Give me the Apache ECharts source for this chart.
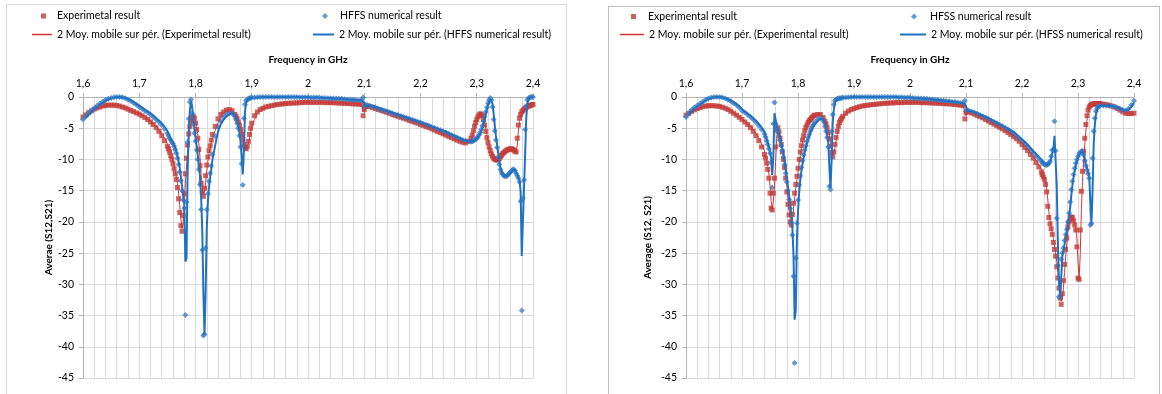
<!DOCTYPE html>
<html>
<head>
<meta charset="utf-8">
<script src="https://cdn.jsdelivr.net/npm/echarts@6/dist/echarts.min.js"></script>
<style>
  html, body { margin: 0; padding: 0; background: #ffffff; }
  #chart { width: 1162px; height: 394px; }
</style>
</head>
<body>
<div id="chart"></div>
<script>
// ---------- Left panel: measured transmission vs. HFFS simulation ----------
const leftFreq = [
  1.600,1.605,1.610,1.615,1.620,1.625,1.630,1.635,1.640,1.645,
  1.650,1.655,1.660,1.665,1.670,1.675,1.680,1.685,1.690,1.695,
  1.700,1.705,1.710,1.715,1.720,1.725,1.730,1.735,1.740,1.745,
  1.750,
  1.752,1.754,1.756,1.758,1.760,1.762,1.764,1.766,1.768,1.770,
  1.772,1.774,1.776,1.778,1.780,1.782,1.784,1.786,1.788,1.790,
  1.792,1.794,1.796,1.798,1.800,1.802,1.804,1.806,1.808,1.810,
  1.812,1.814,1.816,1.818,1.820,1.822,1.824,1.826,1.828,1.830,
  1.835,1.840,1.845,1.850,1.855,1.860,1.865,1.870,
  1.872,1.874,1.876,1.878,1.880,1.882,1.884,1.886,1.888,1.890,1.892,1.894,1.896,1.898,1.900,
  1.905,1.910,1.915,1.920,1.925,1.930,1.935,1.940,1.945,1.950,
  1.955,1.960,1.965,1.970,1.975,1.980,1.985,1.990,1.995,2.000,
  2.005,2.010,2.015,2.020,2.025,2.030,2.035,2.040,2.045,2.050,
  2.055,2.060,2.065,2.070,2.075,2.080,2.085,2.090,2.095,
  2.098,2.100,2.102,
  2.105,2.110,2.115,2.120,2.125,2.130,2.135,2.140,2.145,2.150,
  2.155,2.160,2.165,2.170,2.175,2.180,2.185,2.190,2.195,2.200,
  2.205,2.210,2.215,2.220,2.225,2.230,2.235,2.240,2.245,2.250,
  2.255,2.260,2.265,2.270,2.275,2.280,2.285,2.290,
  2.292,2.294,2.296,2.298,2.300, 2.302,2.304,2.306,2.308,2.310,
  2.312,2.314,2.316,2.318,2.320, 2.322,2.324,2.326,2.328,2.330,
  2.332,2.334,2.336,2.338,2.340, 2.342,2.344,2.346,2.348,2.350,
  2.352,2.354,2.356,2.358,2.360, 2.362,2.364,2.366,2.368,2.370,
  2.372,2.374,2.376,2.378,2.380, 2.382,2.384,2.386,2.388,2.390,
  2.392,2.394,2.396,2.398,2.400
];
const leftExp = [
  -3.2,-2.85,-2.5,-2.2,-1.95,-1.75,-1.6,-1.45,-1.35,-1.3,
  -1.3,-1.3,-1.35,-1.45,-1.6,-1.75,-1.95,-2.15,-2.35,-2.55,
  -2.75,-3.0,-3.3,-3.6,-4.0,-4.4,-4.9,-5.5,-6.2,-7.0,
  -7.9,
  -8.3,-8.8,-9.4,-10.0,-10.7,-11.5,-12.3,-13.2,-14.5,-16.3,
  -18.5,-20.6,-21.5,-19.0,-15.5,-12.3,-9.8,-7.7,-5.9,-4.7,
  -3.8,-3.3,-3.1,-3.4,-4.2,-5.2,-6.6,-8.4,-11.0,-13.8,
  -15.3,-15.9,-14.6,-12.6,-10.9,-9.6,-8.6,-7.8,-6.9,-6.0,
  -4.7,-3.5,-2.8,-2.4,-2.1,-2.0,-2.2,-2.8,
  -3.1,-3.5,-4.0,-4.5,-5.2,-6.0,-6.8,-7.6,-8.1,-8.3,-7.9,-7.1,-6.0,-5.0,-4.2,
  -3.0,-2.4,-2.0,-1.8,-1.6,-1.5,-1.4,-1.3,-1.2,-1.15,
  -1.1,-1.05,-1.0,-1.0,-0.95,-0.95,-0.9,-0.9,-0.85,-0.85,
  -0.85,-0.85,-0.85,-0.85,-0.85,-0.9,-0.9,-0.9,-0.9,-0.95,
  -0.95,-1.0,-1.0,-1.05,-1.05,-1.1,-1.1,-1.15,-1.2,
  -3.0,-2.0,-1.5,
  -1.45,-1.55,-1.7,-1.85,-2.0,-2.15,-2.3,-2.45,-2.6,-2.8,
  -2.95,-3.1,-3.25,-3.4,-3.55,-3.75,-3.9,-4.05,-4.2,-4.4,
  -4.55,-4.75,-4.9,-5.1,-5.3,-5.5,-5.7,-5.9,-6.1,-6.3,
  -6.5,-6.7,-6.9,-7.1,-7.25,-7.35,-7.1,-6.6,
  -6.1,-5.4,-4.7,-4.1,-3.6, -3.2,-2.9,-2.7,-2.75,-3.0,
  -3.6,-4.5,-5.5,-6.5,-7.3, -8.0,-8.6,-9.1,-9.5,-9.8,
  -9.95,-10.05,-10.1,-10.05,-9.9, -9.6,-9.35,-9.1,-8.9,-8.75,
  -8.6,-8.5,-8.4,-8.35,-8.3, -8.3,-8.4,-8.5,-8.7,-8.8,
  -6.6,-4.5,-3.4,-2.8,-2.4, -2.15,-1.95,-1.8,-1.65,-1.55,
  -1.45,-1.4,-1.3,-1.25,-1.2
];
const leftHfss = [
  -3.6,-3.1,-2.6,-2.2,-1.8,-1.4,-1.05,-0.75,-0.5,-0.3,
  -0.15,-0.05,0,0,-0.05,-0.2,-0.4,-0.65,-0.95,-1.25,
  -1.6,-1.9,-2.2,-2.5,-2.8,-3.2,-3.6,-4.0,-4.5,-5.1,
  -5.8,
  -6.2,-6.6,-6.9,-7.2,-7.5,-7.9,-8.4,-9.0,-9.8,-10.8,
  -12.0,-13.4,-15.0,-16.5,-17.8,-34.9,-16.8,-7.2,-3.5,-0.8,
  -0.4,-2.6,-4.3,-5.8,-7.1,-8.5,-10.0,-11.6,-14.0,-18.0,
  -24.5,-38.2,-38.0,-24.2,-18.0,-15.5,-13.5,-12.2,-11.0,-9.2,
  -6.3,-4.8,-3.9,-3.3,-2.9,-2.6,-2.6,-3.1,
  -3.6,-4.2,-5.0,-6.2,-8.0,-10.7,-14.1,-3.4,-1.2,-0.6,-0.4,-0.3,-0.2,-0.15,-0.1,
  -0.1,-0.05,0,0,0,0,0,0,0,0,
  0,0,0,0,0,0,-0.05,-0.05,-0.05,-0.05,
  -0.1,-0.1,-0.1,-0.1,-0.15,-0.15,-0.2,-0.2,-0.25,-0.25,
  -0.3,-0.3,-0.35,-0.4,-0.4,-0.45,-0.5,-0.55,-0.5,
  -0.1,-1.7,-1.3,
  -1.3,-1.4,-1.55,-1.7,-1.85,-2.0,-2.15,-2.3,-2.45,-2.6,
  -2.75,-2.9,-3.05,-3.2,-3.35,-3.5,-3.65,-3.8,-3.95,-4.1,
  -4.3,-4.45,-4.6,-4.8,-4.95,-5.15,-5.3,-5.5,-5.7,-5.9,
  -6.1,-6.3,-6.5,-6.7,-6.9,-7.0,-7.1,-7.15,
  -7.1,-7.0,-6.9,-6.8,-6.6, -6.4,-6.1,-5.7,-5.2,-4.6,
  -3.9,-3.2,-2.4,-1.7,-1.0, -0.5,-0.15,-0.5,-1.6,-3.6,
  -5.4,-6.9,-8.1,-9.6,-10.8, -11.6,-12.1,-12.4,-12.6,-12.7,
  -12.7,-12.6,-12.4,-12.2,-12.0, -11.8,-11.6,-11.6,-11.8,-12.2,
  -12.6,-13.0,-13.6,-16.7,-34.2, -16.2,-13.3,-5.2,-1.5,-0.5,
  -0.2,-0.1,0,0,0
];

// ---------- Right panel: measured transmission vs. HFSS simulation ----------
const rightFreq = [
  1.600,1.605,1.610,1.615,1.620,1.625,1.630,1.635,1.640,1.645,
  1.650,1.655,1.660,1.665,1.670,1.675,1.680,1.685,1.690,1.695,
  1.700,1.705,1.710,1.715,1.720,1.725,1.730,1.735,1.740,
  1.742,1.744,1.746,1.748,1.750, 1.752,1.754,1.756,1.758,1.760,
  1.762,1.764,1.766,1.768,1.770, 1.772,1.774,1.776,1.778,1.780,
  1.782,1.784,1.786,1.788,1.790, 1.792,1.794,1.796,1.798,1.800,
  1.802,1.804,1.806,1.808,1.810, 1.812,1.814,1.816,1.818,1.820,
  1.822,1.824,1.826,1.828,1.830,
  1.835,1.840,1.845,
  1.848,1.850,1.852,1.854,1.856,1.858,1.860,1.862,1.864,1.866,1.868,1.870,1.872,1.874,1.876,1.878,1.880,
  1.885,1.890,1.895,
  1.900,1.905,1.910,1.915,1.920,1.925,1.930,1.935,1.940,1.945,1.950,1.955,1.960,1.965,1.970,1.975,
  1.980,1.985,1.990,1.995,2.000,2.005,2.010,2.015,2.020,2.025,2.030,2.035,
  2.040,2.045,2.050,2.055,2.060,2.065,2.070,2.075,2.080,2.085,2.090,2.095,
  2.098,2.100,2.102,
  2.105,2.110,2.115,2.120,2.125,2.130,2.135,2.140,2.145,2.150,
  2.155,2.160,2.165,2.170,2.175,2.180,2.185,2.190,2.195,2.200,
  2.205,2.210,2.215,2.220,2.225,2.230,2.235,
  2.236,2.238,2.240,2.242,2.244, 2.246,2.248,2.250,2.252,2.254,
  2.256,2.258,2.260,2.262,2.264, 2.266,2.268,2.270,2.272,2.274,
  2.276,2.278,2.280,2.282,2.284, 2.286,2.288,2.290,2.292,2.294,
  2.296,2.298,2.300,2.302,2.304, 2.306,2.308,2.310,2.312,2.314,
  2.316,2.318,2.320,2.322,2.324, 2.326,2.328,2.330,2.332,2.334,
  2.336,2.338,2.340,
  2.345,2.350,2.355,2.360,2.365,2.370,2.375,2.380,2.385,2.390,2.395,2.400
];
const rightExp = [
  -2.9,-2.6,-2.3,-2.05,-1.85,-1.7,-1.55,-1.45,-1.4,-1.4,
  -1.4,-1.45,-1.5,-1.65,-1.8,-2.0,-2.3,-2.6,-2.9,-3.25,
  -3.6,-4.0,-4.4,-4.9,-5.5,-6.2,-7.0,-8.0,-9.2,
  -9.8,-10.6,-11.6,-13.0,-15.4, -17.8,-18.1,-15.4,-13.0,-8.0,
  -5.2,-4.9,-5.6,-6.6,-7.6, -8.8,-10.0,-11.3,-13.0,-15.2,
  -17.2,-18.9,-20.0,-20.5,-18.8, -17.0,-15.4,-14.0,-12.7,-11.4,
  -10.0,-8.8,-7.8,-6.9,-6.2, -5.4,-4.9,-4.5,-4.1,-3.8,
  -3.6,-3.4,-3.2,-3.0,-2.9,
  -2.8,-2.8,-3.3,
  -3.9,-4.3,-4.9,-5.7,-6.7,-7.9,-8.9,-9.6,-8.8,-7.6,-6.5,-5.5,-4.7,-4.1,-3.7,-3.4,-3.1,
  -2.6,-2.25,-2.0,
  -1.85,-1.7,-1.55,-1.45,-1.35,-1.3,-1.25,-1.2,-1.15,-1.1,-1.05,-1.0,-1.0,-0.95,-0.95,-0.9,
  -0.9,-0.9,-0.85,-0.85,-0.85,-0.85,-0.85,-0.85,-0.9,-0.9,-0.9,-0.95,
  -0.95,-1.0,-1.0,-1.05,-1.05,-1.1,-1.1,-1.15,-1.2,-1.25,-1.3,-1.4,
  -3.5,-2.5,-2.3,
  -2.4,-2.55,-2.75,-2.95,-3.15,-3.35,-3.6,-3.85,-4.1,-4.35,
  -4.6,-4.85,-5.1,-5.4,-5.7,-6.0,-6.35,-6.7,-7.1,-7.6,
  -8.1,-8.6,-9.2,-9.8,-10.5,-11.2,-12.0,
  -12.4,-12.8,-13.2,-14.0,-15.2, -17.5,-19.3,-20.3,-21.1,-22.0,
  -23.3,-24.4,-25.5,-27.2,-29.0, -30.6,-32.2,-33.2,-31.5,-29.4,
  -26.8,-24.4,-22.6,-20.8,-20.0, -19.5,-19.2,-19.3,-19.8,-20.5,
  -21.3,-24.0,-29.0,-29.2,-21.3, -15.1,-11.9,-8.7,-6.6,-4.4,
  -3.0,-2.1,-1.6,-1.35,-1.2, -1.15,-1.1,-1.1,-1.05,-1.05,
  -1.05,-1.05,-1.1,
  -1.15,-1.2,-1.3,-1.45,-1.6,-1.85,-2.1,-2.4,-2.6,-2.65,-2.65,-2.6
];
const rightHfss = [
  -3.2,-2.6,-2.1,-1.7,-1.35,-1.05,-0.75,-0.45,-0.25,-0.1,
  0,0,0,-0.1,-0.25,-0.45,-0.7,-1.0,-1.3,-1.7,
  -2.2,-2.5,-2.85,-3.2,-3.6,-4.05,-4.6,-5.2,-5.9,
  -6.4,-7.0,-7.6,-8.3,-9.0, -10.5,-14.5,-4.3,-0.9,-4.3,
  -5.0,-5.6,-6.3,-7.0,-7.8, -8.6,-9.6,-10.8,-12.2,-13.6,
  -15.0,-16.4,-17.8,-20.0,-22.1, -28.7,-42.6,-25.8,-20.2,-16.5,
  -14.1,-12.6,-11.3,-10.2,-9.3, -8.5,-7.8,-7.1,-6.5,-6.0,
  -5.5,-5.1,-4.7,-4.4,-4.1,
  -3.6,-3.3,-3.8,
  -4.7,-5.5,-6.5,-8.0,-14.3,-14.8,-5.5,-2.8,-1.2,-0.6,-0.4,-0.3,-0.25,-0.2,-0.2,-0.15,-0.1,
  -0.1,-0.05,0,
  0,0,0,0,0,0,0,0,0,0,0,0,0,0,0,0,
  -0.05,-0.05,-0.1,-0.1,-0.1,-0.15,-0.2,-0.2,-0.25,-0.3,-0.3,-0.35,
  -0.4,-0.45,-0.5,-0.55,-0.6,-0.65,-0.7,-0.75,-0.8,-0.9,-0.95,-1.0,
  -0.6,-2.3,-2.1,
  -2.2,-2.35,-2.5,-2.7,-2.9,-3.1,-3.3,-3.5,-3.75,-4.0,
  -4.2,-4.45,-4.7,-4.95,-5.2,-5.5,-5.8,-6.2,-6.6,-7.0,
  -7.4,-7.9,-8.4,-8.9,-9.4,-9.85,-10.3,
  -10.45,-10.65,-10.75,-10.85,-10.9, -10.8,-10.6,-10.3,-9.5,-8.5,
  -8.5,-3.9,-8.6,-19.4,-27.0, -32.0,-32.2,-26.0,-25.0,-24.2,
  -23.0,-22.0,-21.2,-20.0,-18.6, -16.8,-14.8,-13.5,-12.4,-11.4,
  -10.6,-10.0,-9.5,-9.1,-8.85, -8.7,-8.7,-9.3,-10.2,-11.0,
  -11.7,-12.3,-13.0,-20.5,-20.3, -9.8,-5.5,-3.4,-2.3,-1.8,
  -1.55,-1.4,-1.35,
  -1.35,-1.35,-1.4,-1.45,-1.55,-1.7,-1.9,-2.1,-2.2,-1.9,-1.3,-0.6
];

// Frequency tick labels (decimal comma)
const freqTickLabels = ['1,6', '1,7', '1,8', '1,9', '2', '2,1', '2,2', '2,3', '2,4'];

// Series names as shown in each legend
const leftNames = {
  exp: 'Experimetal result',
  sim: 'HFFS numerical result',
  expAvg: '2 Moy. mobile sur pér. (Experimetal result)',
  simAvg: '2 Moy. mobile sur pér. (HFFS numerical result)'
};
const rightNames = {
  exp: 'Experimental result',
  sim: 'HFSS numerical result',
  expAvg: '2 Moy. mobile sur pér. (Experimental result)',
  simAvg: '2 Moy. mobile sur pér. (HFSS numerical result)'
};

function pairs(freq, vals) {
  return freq.map((f, i) => [f, vals[i]]);
}
// Two-period moving-average trendline (mean of each point with the previous one)
function movingAverage(freq, vals) {
  const out = [];
  for (let i = 1; i < vals.length; i++) out.push([freq[i], (vals[i - 1] + vals[i]) / 2]);
  return out;
}

const FONT = 'Lato, "Open Sans", sans-serif';
const RED = '#bf3d3a';
const RED_LINE = '#d63434';
const BLUE = '#3d7fc6';
const BLUE_LINE = '#1f72c3';
const GRID = '#d9d9d9';
const AXIS = '#b3b3b3';
const SQUARE = 'path://M0,0L10,0L10,10L0,10Z';
const DIAMOND = 'path://M5,0L10,5L5,10L0,5Z';
const BAR = 'path://M0,0L40,0L40,2L0,2Z';

function xAxisFor(gridIndex) {
  return {
    gridIndex, type: 'value', position: 'top', min: 1.6, max: 2.4, interval: 0.1,
    name: 'Frequency in GHz', nameLocation: 'middle', nameGap: 32,
    nameTextStyle: { fontFamily: FONT, fontSize: 10, fontWeight: 'bold', color: '#000' },
    axisLine: { show: true, onZero: false, lineStyle: { color: AXIS } },
    axisTick: { show: true, length: 4, lineStyle: { color: AXIS } },
    axisLabel: {
      margin: 8, fontFamily: FONT, fontSize: 10.5, color: '#000',
      formatter: v => freqTickLabels[Math.round((v - 1.6) * 10)]
    },
    splitLine: { show: true, lineStyle: { color: GRID, width: 1 } },
    minorTick: { show: false, splitNumber: 5 },
    minorSplitLine: { show: true, lineStyle: { color: GRID, width: 1 } }
  };
}
function yAxisFor(gridIndex, title, gap) {
  return {
    gridIndex, type: 'value', min: -45, max: 0, interval: 5,
    name: title, nameLocation: 'middle', nameGap: gap, nameRotate: 90,
    nameTextStyle: { fontFamily: FONT, fontSize: 10, fontWeight: 'bold', color: '#000' },
    axisLine: { show: true, lineStyle: { color: AXIS } },
    axisTick: { show: true, length: 4, lineStyle: { color: AXIS } },
    axisLabel: { margin: 9, fontFamily: FONT, fontSize: 10.5, color: '#000' },
    splitLine: { show: true, lineStyle: { color: GRID, width: 1 } }
  };
}
function seriesFor(idx, names, freq, exp, sim) {
  return [
    { name: names.exp, type: 'scatter', xAxisIndex: idx, yAxisIndex: idx,
      symbol: 'rect', symbolSize: 5, itemStyle: { color: RED }, z: 2,
      data: pairs(freq, exp) },
    { name: names.sim, type: 'scatter', xAxisIndex: idx, yAxisIndex: idx,
      symbol: 'diamond', symbolSize: 6, itemStyle: { color: BLUE }, z: 3,
      data: pairs(freq, sim) },
    { name: names.expAvg, type: 'line', xAxisIndex: idx, yAxisIndex: idx,
      symbol: 'none', lineStyle: { color: RED_LINE, width: 1 }, itemStyle: { color: RED_LINE }, z: 4,
      data: movingAverage(freq, exp) },
    { name: names.simAvg, type: 'line', xAxisIndex: idx, yAxisIndex: idx,
      symbol: 'none', lineStyle: { color: BLUE_LINE, width: 2 }, itemStyle: { color: BLUE_LINE }, z: 5,
      data: movingAverage(freq, sim) }
  ];
}
// One legend entry: icon box at (left, centerY), text shifted by padLeft
function legendItem(name, icon, left, centerY, w, h, padLeft) {
  return {
    data: [{ name, icon }], left, top: centerY - 7, itemWidth: w, itemHeight: h, padding: 0,
    symbolKeepAspect: false, selectedMode: false,
    textStyle: { fontFamily: FONT, fontSize: 10.5, color: '#000', padding: [0, 0, 0, padLeft] }
  };
}

const chart = echarts.init(document.getElementById('chart'), null, { renderer: 'canvas' });
chart.setOption({
  animation: false,
  backgroundColor: '#ffffff',
  graphic: [
    { type: 'rect', shape: { x: 6.5, y: 4.5, width: 560, height: 400 }, silent: true,
      style: { fill: 'none', stroke: '#d9d9d9', lineWidth: 1 } },
    { type: 'rect', shape: { x: 608.5, y: 6.5, width: 551, height: 400 }, silent: true,
      style: { fill: 'none', stroke: '#bfbfbf', lineWidth: 1 } }
  ],
  legend: [
    legendItem(leftNames.exp, SQUARE, 41, 17.5, 5, 5, 6),
    legendItem(leftNames.sim, DIAMOND, 322, 17.5, 6, 6, 7),
    legendItem(leftNames.expAvg, BAR, 32, 36, 20, 1.5, 0),
    legendItem(leftNames.simAvg, BAR, 313, 36, 21, 2, 0),
    legendItem(rightNames.exp, SQUARE, 631, 18, 5, 5, 7),
    legendItem(rightNames.sim, DIAMOND, 911, 18, 6, 6, 8),
    legendItem(rightNames.expAvg, BAR, 620, 36, 24, 1.5, 0),
    legendItem(rightNames.simAvg, BAR, 900, 36, 26, 2, 0)
  ],
  grid: [
    { left: 83, top: 97, width: 450, height: 281 },
    { left: 686, top: 97, width: 448, height: 281 }
  ],
  xAxis: [xAxisFor(0), xAxisFor(1)],
  yAxis: [yAxisFor(0, 'Averae (S12,S21)', 28), yAxisFor(1, 'Average (S12, S21)', 33)],
  series: [
    ...seriesFor(0, leftNames, leftFreq, leftExp, leftHfss),
    ...seriesFor(1, rightNames, rightFreq, rightExp, rightHfss)
  ]
});
</script>
</body>
</html>
